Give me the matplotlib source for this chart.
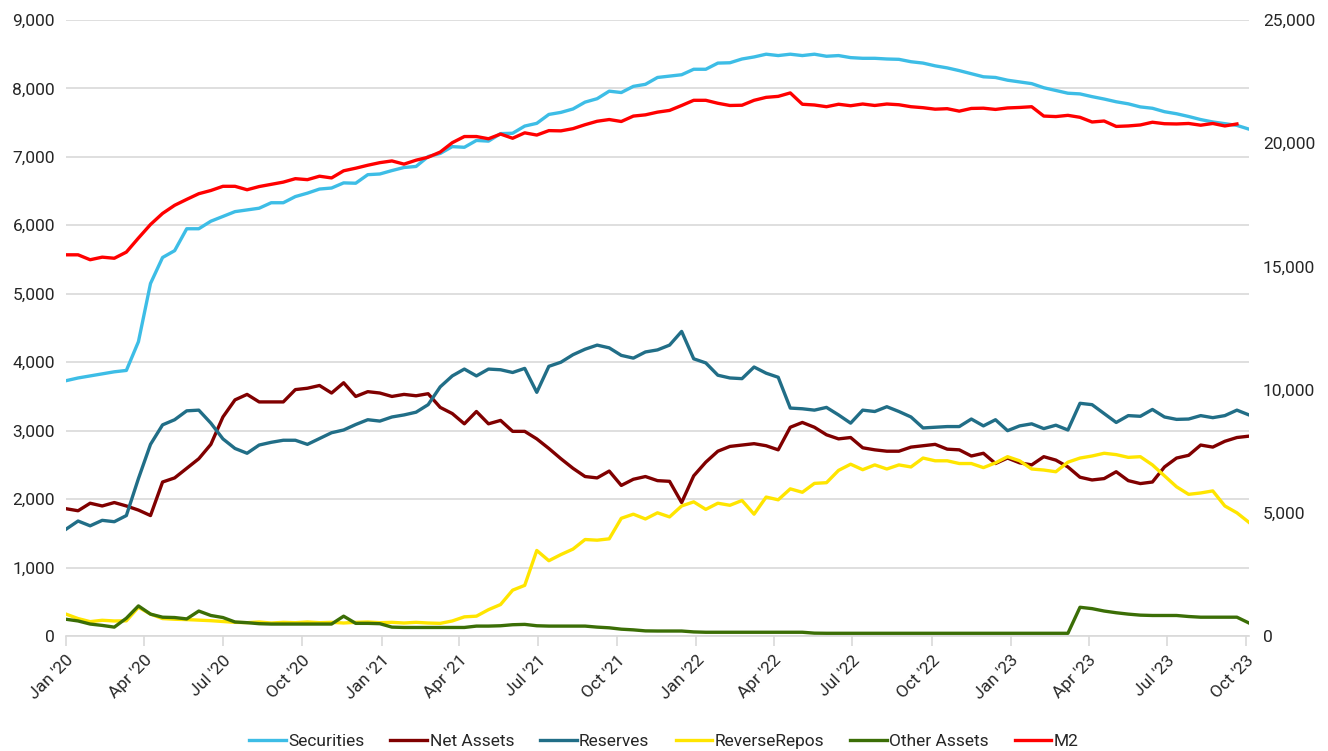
import pandas as pd
import matplotlib.pyplot as plt
from matplotlib.ticker import MultipleLocator, FuncFormatter

plt.rcParams['font.family'] = ['Roboto', 'DejaVu Sans']

# ----------------------
# Data (biweekly, $bn)
# ----------------------
dates = pd.date_range('2020-01-01', periods=99, freq='14D')

securities = [
    3730, 3770, 3800, 3830, 3860, 3880, 4300, 5150, 5530, 5630,
    5950, 5950, 6060, 6130, 6200, 6225, 6250, 6330, 6330, 6420,
    6470, 6530, 6545, 6620, 6615, 6740, 6750, 6800, 6845, 6860,
    7005, 7050, 7150, 7140, 7240, 7230, 7340, 7345, 7450, 7490,
    7620, 7650, 7700, 7800, 7850, 7960, 7940, 8030, 8060, 8160,
    8180, 8200, 8280, 8280, 8370, 8375, 8430, 8460, 8500, 8480,
    8500, 8480, 8500, 8470, 8480, 8450, 8440, 8440, 8430, 8425,
    8390, 8370, 8330, 8300, 8260, 8215, 8170, 8160, 8120, 8095,
    8070, 8010, 7970, 7930, 7920, 7880, 7845, 7805, 7775, 7730,
    7710, 7660, 7630, 7590, 7545, 7510, 7485, 7460, 7405]

net_assets = [
    1860, 1830, 1940, 1900, 1950, 1900, 1840, 1760, 2250, 2310,
    2450, 2590, 2800, 3200, 3450, 3530, 3420, 3420, 3420, 3600,
    3620, 3660, 3550, 3700, 3500, 3570, 3550, 3500, 3530, 3510,
    3540, 3340, 3250, 3100, 3280, 3100, 3150, 2990, 2990, 2880,
    2740, 2590, 2450, 2330, 2310, 2410, 2200, 2290, 2330, 2270,
    2260, 1950, 2340, 2540, 2700, 2770, 2790, 2810, 2780, 2720,
    3050, 3120, 3050, 2940, 2880, 2900, 2750, 2720, 2700, 2700,
    2760, 2780, 2800, 2730, 2720, 2630, 2670, 2520, 2600, 2530,
    2500, 2620, 2570, 2470, 2320, 2280, 2300, 2400, 2270, 2227,
    2250, 2470, 2600, 2640, 2790, 2760, 2845, 2900, 2920]

reserves = [
    1560, 1680, 1610, 1690, 1670, 1760, 2300, 2800, 3085, 3160,
    3290, 3300, 3110, 2880, 2740, 2670, 2790, 2830, 2860, 2860,
    2800, 2885, 2970, 3010, 3090, 3160, 3140, 3200, 3230, 3270,
    3380, 3640, 3800, 3900, 3800, 3900, 3890, 3850, 3910, 3560,
    3940, 4000, 4110, 4190, 4250, 4210, 4100, 4060, 4150, 4180,
    4250, 4450, 4050, 3990, 3810, 3770, 3760, 3930, 3840, 3780,
    3330, 3320, 3300, 3340, 3230, 3110, 3300, 3280, 3350, 3280,
    3200, 3040, 3050, 3060, 3060, 3170, 3070, 3160, 3000, 3070,
    3100, 3030, 3080, 3010, 3400, 3380, 3250, 3120, 3220, 3210,
    3310, 3200, 3165, 3170, 3220, 3190, 3220, 3300, 3230]

reverse_repos = [
    320, 255, 210, 230, 220, 222, 420, 320, 255, 245,
    240, 232, 224, 212, 200, 195, 205, 190, 200, 195,
    205, 195, 200, 190, 200, 205, 195, 200, 190, 200,
    190, 185, 220, 280, 290, 385, 460, 670, 740, 1250,
    1100, 1190, 1270, 1410, 1400, 1420, 1720, 1780, 1710, 1800,
    1740, 1900, 1960, 1850, 1940, 1910, 1980, 1780, 2030, 1990,
    2150, 2100, 2230, 2240, 2420, 2510, 2430, 2500, 2440, 2500,
    2470, 2600, 2560, 2560, 2520, 2520, 2460, 2530, 2620, 2560,
    2440, 2425, 2400, 2540, 2600, 2630, 2670, 2650, 2610, 2620,
    2500, 2340, 2180, 2070, 2090, 2120, 1900, 1800, 1660]

other_assets = [
    245, 220, 175, 155, 130, 260, 440, 320, 275, 270,
    250, 365, 300, 270, 205, 195, 180, 175, 175, 175,
    175, 175, 175, 290, 185, 185, 180, 130, 125, 125,
    125, 125, 125, 125, 145, 145, 150, 165, 170, 150,
    145, 145, 145, 145, 130, 120, 100, 90, 75, 73,
    73, 73, 60, 55, 55, 55, 55, 55, 55, 55,
    55, 55, 42, 40, 40, 40, 40, 40, 40, 40,
    40, 40, 40, 40, 40, 40, 40, 40, 40, 40,
    40, 40, 40, 40, 420, 400, 365, 340, 320, 305,
    300, 300, 300, 285, 275, 275, 275, 275, 190]

# M2 on the right axis, one reading shorter
m2 = [
    15470, 15470, 15270, 15375, 15330, 15580, 16150, 16700, 17150, 17480,
    17720, 17950, 18080, 18250, 18250, 18110, 18240, 18330, 18420, 18560,
    18520, 18660, 18590, 18880, 18985, 19105, 19210, 19280, 19150, 19310,
    19430, 19640, 20020, 20270, 20270, 20180, 20370, 20200, 20420, 20330,
    20510, 20500, 20590, 20750, 20890, 20960, 20880, 21100, 21150, 21260,
    21330, 21530, 21740, 21740, 21620, 21530, 21540, 21740, 21860, 21900,
    22040, 21580, 21550, 21480, 21580, 21520, 21590, 21530, 21590, 21560,
    21480, 21440, 21380, 21400, 21300, 21410, 21420, 21370, 21430, 21450,
    21480, 21100, 21080, 21130, 21050, 20860, 20900, 20680, 20700, 20740,
    20850, 20790, 20780, 20800, 20730, 20800, 20700, 20780]

tick_dates = pd.date_range('2020-01-01', '2023-10-01', freq='QS')
tick_labels = [d.strftime("%b '%y") for d in tick_dates]

# ----------------------
# Plot
# ----------------------
text_col = '#262626'
grid_col = '#D9D9D9'
lw = 2.4

fig = plt.figure(figsize=(13.28, 7.51), dpi=100)
ax = fig.add_axes([0.0497, 0.1531, 0.8908, 0.8203])
ax2 = ax.twinx()

ax.plot(dates, securities, color='#3DBDE6', lw=lw, label='Securities')
ax.plot(dates, net_assets, color='#800000', lw=lw, label='Net Assets')
ax.plot(dates, reserves, color='#216E87', lw=lw, label='Reserves')
ax.plot(dates, reverse_repos, color='#FFE500', lw=lw, label='ReverseRepos')
ax.plot(dates, other_assets, color='#3B6E06', lw=lw, label='Other Assets')
ax2.plot(dates[:len(m2)], m2, color='#FF0000', lw=lw, label='M2')

ax.set_xlim(dates[0], dates[-1])
ax.set_ylim(0, 9000)
ax2.set_ylim(0, 25000)
ax.yaxis.set_major_locator(MultipleLocator(1000))
ax2.yaxis.set_major_locator(MultipleLocator(5000))
fmt = FuncFormatter(lambda v, p: f'{v:,.0f}')
ax.yaxis.set_major_formatter(fmt)
ax2.yaxis.set_major_formatter(fmt)

ax.grid(axis='y', color=grid_col, lw=1.2)
ax.set_axisbelow(True)

ax.set_xticks(tick_dates)
ax.set_xticklabels(tick_labels)
plt.setp(ax.get_xticklabels(), rotation=45, ha='right', rotation_mode='anchor')

for a in (ax, ax2):
    for s in ('top', 'left', 'right'):
        a.spines[s].set_visible(False)
ax.spines['bottom'].set_color(grid_col)
ax.spines['bottom'].set_linewidth(1.2)
ax2.spines['bottom'].set_visible(False)

ax.tick_params(axis='x', length=7, color=grid_col, width=1.2, labelsize=12.5,
               labelcolor=text_col, pad=5)
ax.tick_params(axis='y', length=0, labelsize=12.5, labelcolor=text_col, pad=8)
ax2.tick_params(axis='y', length=0, labelsize=12.5, labelcolor=text_col, pad=10)

h1, l1 = ax.get_legend_handles_labels()
h2, l2 = ax2.get_legend_handles_labels()
fig.legend(h1 + h2, l1 + l2, loc='lower center', bbox_to_anchor=(0.5, -0.018),
           ncol=6, frameon=False, fontsize=12.5, handlelength=2.1,
           handletextpad=0.15, columnspacing=1.5, labelcolor=text_col)

fig.savefig('out.png', dpi=100)
